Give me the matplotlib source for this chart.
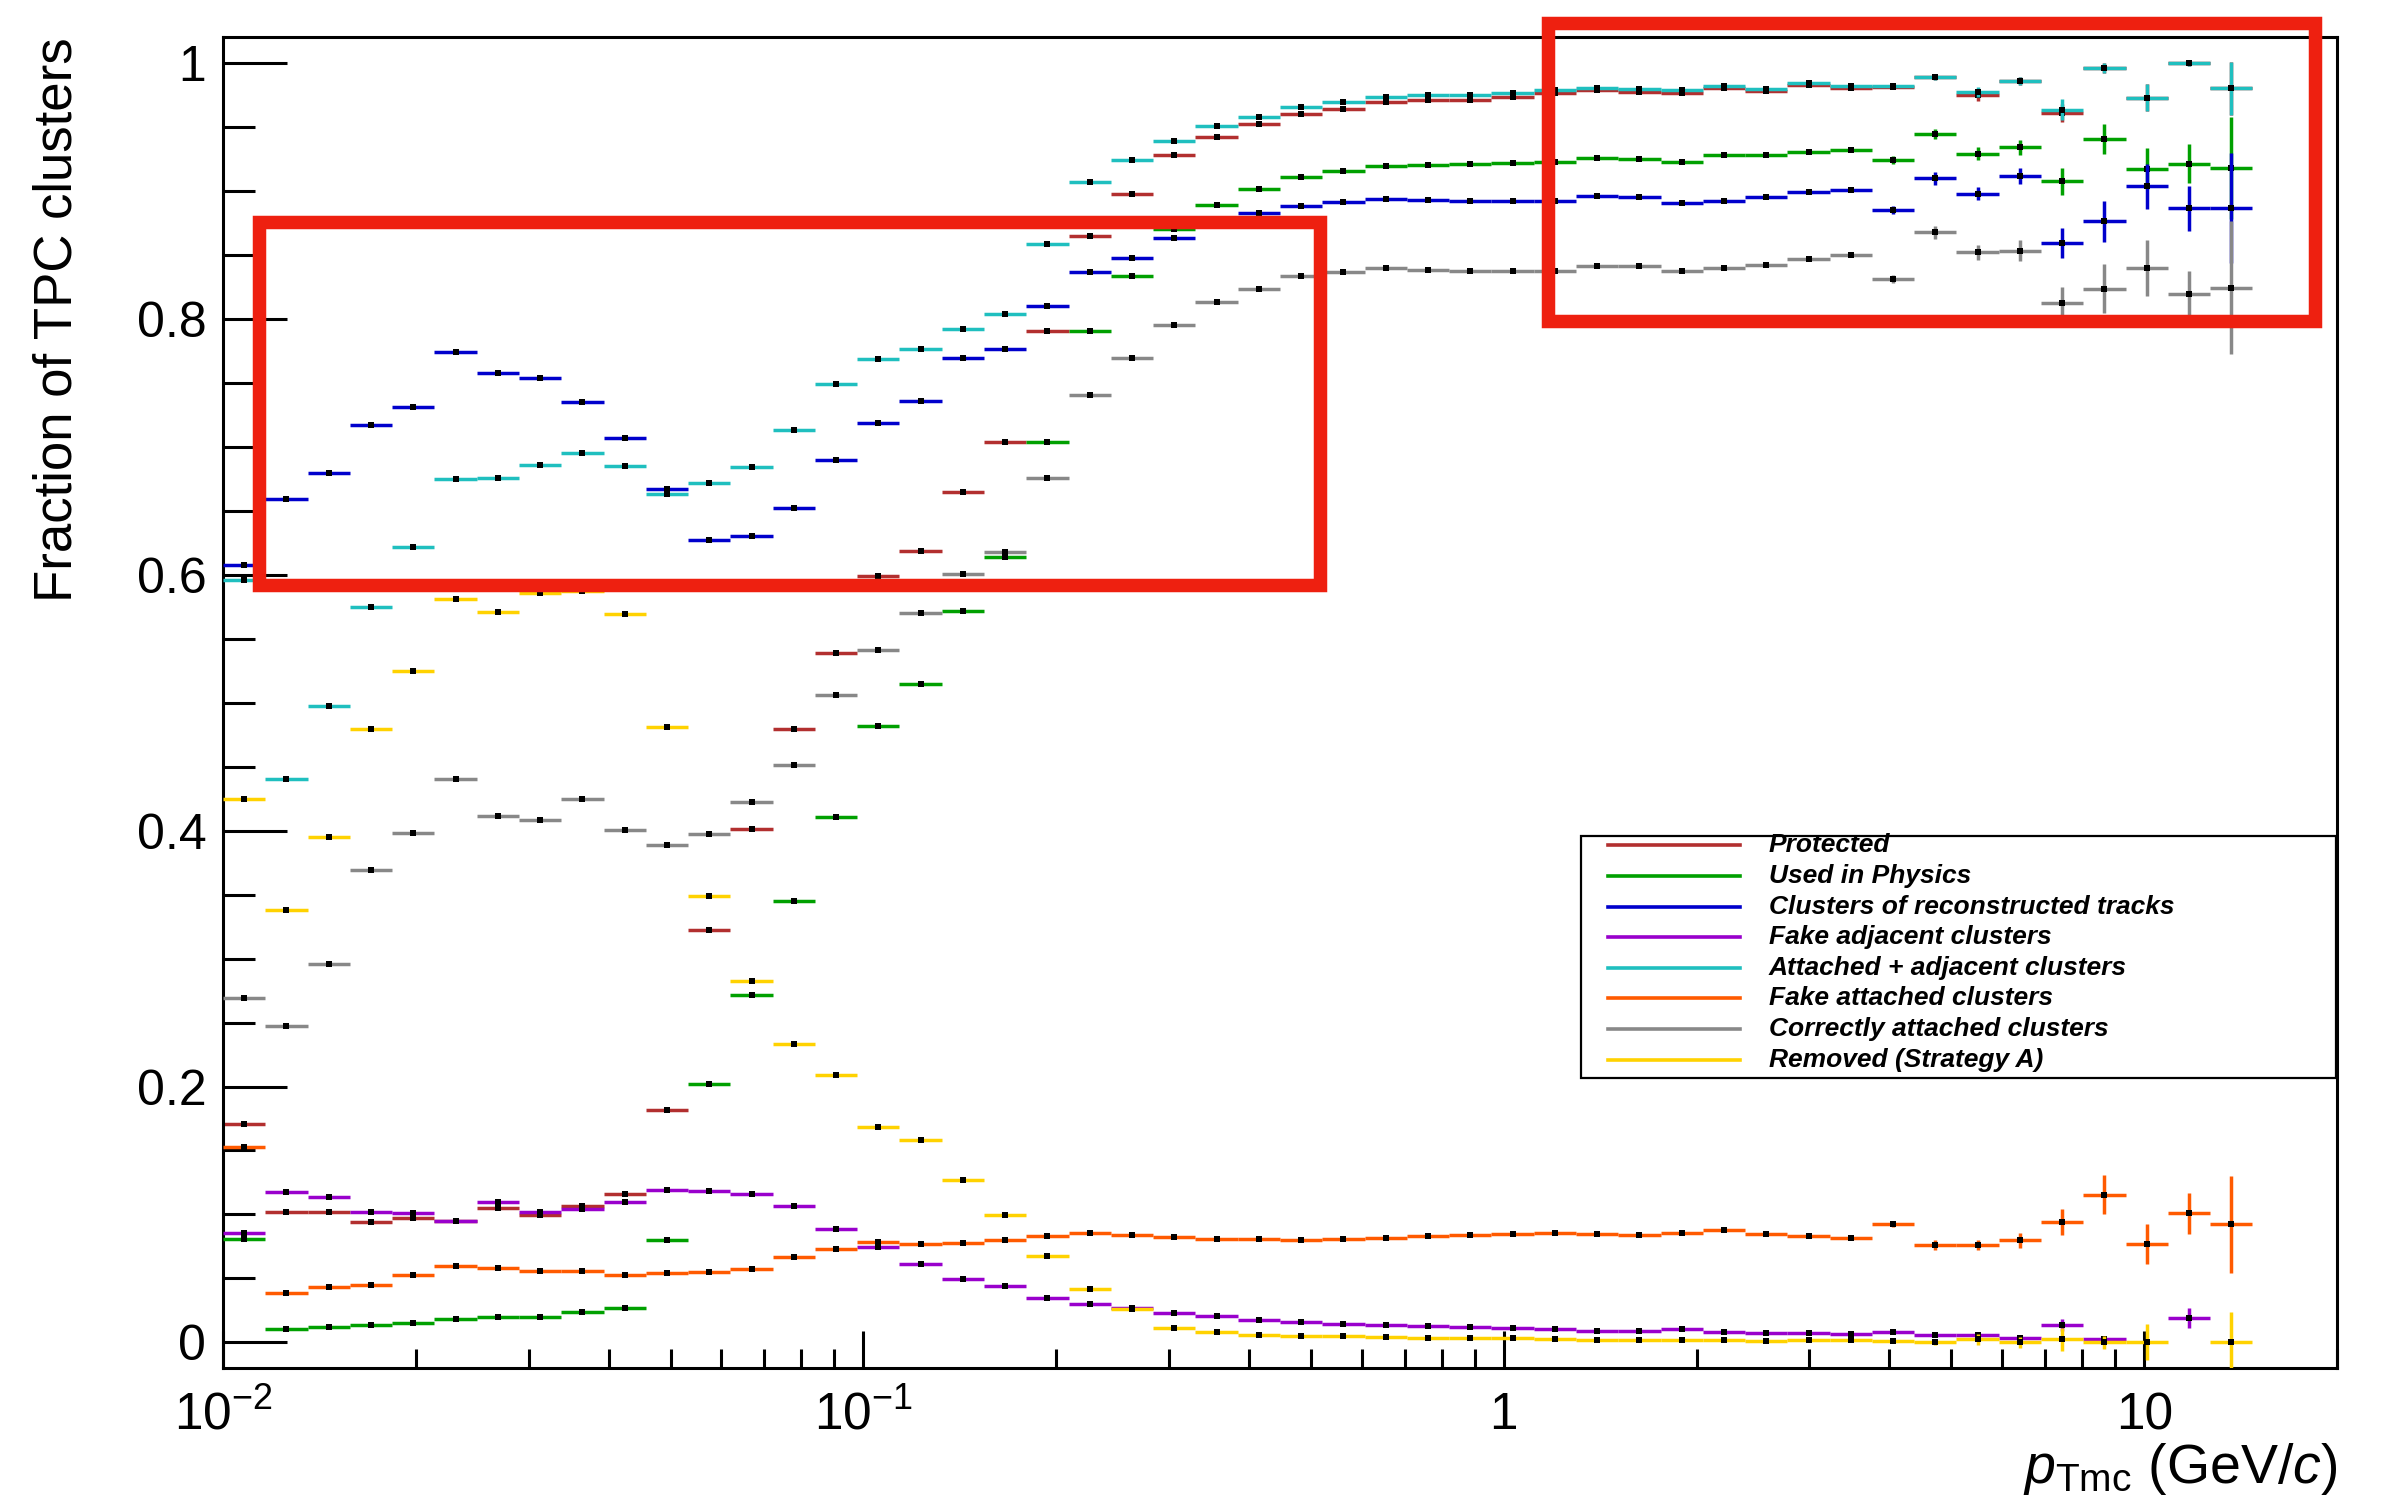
# TPC cluster fractions vs MC pT, ROOT-like look
import numpy as np
import matplotlib
matplotlib.use("Agg")
import matplotlib.pyplot as plt
from matplotlib.patches import Rectangle
from matplotlib.lines import Line2D
from matplotlib.ticker import MultipleLocator, LogLocator, NullFormatter
import matplotlib.transforms as mtransforms

plt.rcParams['font.family'] = ['Liberation Sans', 'DejaVu Sans']
plt.rcParams['mathtext.fontset'] = 'custom'
plt.rcParams['mathtext.rm'] = 'Liberation Sans'
plt.rcParams['mathtext.it'] = 'Liberation Sans:italic'
plt.rcParams['mathtext.bf'] = 'Liberation Sans:bold'

# ---------------------------------------
# data (48 filled log bins out of 50, 0.01 - 20 GeV/c)
# ---------------------------------------
n_bins_total = 50
n_filled = 48

protected = [0.171, 0.102, 0.102, 0.0945, 0.097, 0.095, 0.105, 0.0995, 0.107, 0.116,
             0.1815, 0.3226, 0.401, 0.4793, 0.5392, 0.599, 0.6184, 0.6646, 0.704, 0.7908,
             0.8646, 0.8978, 0.9277, 0.9424, 0.9521, 0.9602, 0.9641, 0.9695, 0.971, 0.9713,
             0.9734, 0.9762, 0.9785, 0.9775, 0.9767, 0.9806, 0.978, 0.9827, 0.9801, 0.981,
             0.989, 0.9746, 0.9859, 0.961, 0.9958, 0.973, 1.0, 0.9801]
used_physics = [0.081, 0.0107, 0.0122, 0.0133, 0.0154, 0.018, 0.0198, 0.0195, 0.0234, 0.0266,
                0.0797, 0.202, 0.2712, 0.3452, 0.4107, 0.4821, 0.515, 0.5715, 0.614, 0.7034,
                0.7908, 0.8332, 0.8705, 0.8889, 0.9014, 0.9108, 0.9153, 0.9195, 0.9201, 0.9207,
                0.9216, 0.9229, 0.9258, 0.9253, 0.9224, 0.9282, 0.9282, 0.9305, 0.9318, 0.9242,
                0.9447, 0.929, 0.934, 0.9077, 0.9407, 0.9174, 0.9213, 0.9179]
reco_tracks = [0.6075, 0.6596, 0.6793, 0.7171, 0.7311, 0.774, 0.7578, 0.7539, 0.7347, 0.7072,
               0.6674, 0.6274, 0.6304, 0.6522, 0.6894, 0.7187, 0.736, 0.7692, 0.7765, 0.8104,
               0.8364, 0.8474, 0.8636, 0.877, 0.8826, 0.8883, 0.891, 0.8937, 0.8931, 0.8919,
               0.8925, 0.892, 0.8964, 0.8956, 0.8904, 0.8925, 0.8951, 0.8993, 0.9006, 0.8849,
               0.9098, 0.8977, 0.9116, 0.8594, 0.8762, 0.9035, 0.8865, 0.8867]
fake_adjacent = [0.0857, 0.1177, 0.1133, 0.1016, 0.1008, 0.0948, 0.1096, 0.1023, 0.1044, 0.1099,
                 0.1188, 0.1182, 0.1161, 0.1063, 0.0888, 0.0747, 0.0615, 0.0497, 0.044, 0.0344,
                 0.0299, 0.027, 0.0229, 0.0206, 0.0177, 0.0159, 0.0143, 0.0133, 0.0125, 0.0117,
                 0.0115, 0.0104, 0.0091, 0.0089, 0.0102, 0.0078, 0.0073, 0.007, 0.0063, 0.0083,
                 0.006, 0.0055, 0.0036, 0.0138, 0.0023, np.nan, 0.019, np.nan]
attached_adjacent = [0.596, 0.4402, 0.4975, 0.5748, 0.6216, 0.6751, 0.676, 0.6856, 0.6952, 0.6853,
                     0.6629, 0.6714, 0.6841, 0.7129, 0.7491, 0.7683, 0.7768, 0.7924, 0.804, 0.8584,
                     0.9071, 0.9241, 0.939, 0.9504, 0.958, 0.9656, 0.9692, 0.9734, 0.9749, 0.9749,
                     0.9766, 0.9788, 0.9801, 0.9793, 0.9785, 0.982, 0.9793, 0.984, 0.982, 0.982,
                     0.989, 0.9775, 0.9859, 0.9636, 0.9958, 0.973, 1.0, 0.9801]
fake_attached = [0.1529, 0.0385, 0.0432, 0.045, 0.0529, 0.0594, 0.058, 0.056, 0.056, 0.0529,
                 0.0542, 0.0547, 0.0573, 0.0664, 0.0734, 0.0784, 0.0768, 0.0779, 0.0797, 0.0831,
                 0.0852, 0.0836, 0.0823, 0.0805, 0.0812, 0.0797, 0.0805, 0.0815, 0.0831, 0.0839,
                 0.0846, 0.0859, 0.0844, 0.0836, 0.0852, 0.088, 0.0849, 0.0831, 0.0813, 0.0922,
                 0.076, 0.0763, 0.0797, 0.094, 0.1156, 0.0768, 0.1008, 0.0924]
correct_attached = [0.269, 0.247, 0.2957, 0.3692, 0.3979, 0.4407, 0.4112, 0.4083, 0.4248, 0.4005,
                    0.3885, 0.3974, 0.4224, 0.4514, 0.5061, 0.5415, 0.57, 0.6004, 0.6181, 0.676,
                    0.7404, 0.7695, 0.7955, 0.8128, 0.823, 0.8335, 0.8368, 0.8395, 0.8383, 0.8377,
                    0.8374, 0.8371, 0.8411, 0.8413, 0.8371, 0.8395, 0.8424, 0.8471, 0.85, 0.8314,
                    0.8678, 0.8521, 0.8534, 0.8127, 0.8237, 0.8398, 0.8196, 0.8245]
removed_a = [0.4248, 0.3377, 0.3948, 0.4798, 0.5246, 0.5808, 0.5706, 0.5859, 0.5874, 0.5694,
             0.4811, 0.3486, 0.2827, 0.2336, 0.2094, 0.1685, 0.1583, 0.1273, 0.0997, 0.0674,
             0.0419, 0.0263, 0.0109, 0.0078, 0.0057, 0.0052, 0.0047, 0.0039, 0.0036, 0.0036,
             0.0032, 0.0026, 0.0018, 0.0018, 0.002, 0.0018, 0.0013, 0.0016, 0.0018, 0.001,
             0.0, 0.0023, 0.0, 0.0023, 0.0, 0.0, np.nan, 0.0]

# statistical errors, only visible in the last 9 bins
tail_start = 39
err_protected = [0.001, 0.002, 0.004, 0.003, 0.007, 0.004, 0.0105, 0.002, 0.0205]
err_used = [0.003, 0.004, 0.005, 0.006, 0.0105, 0.012, 0.016, 0.015, 0.040]
err_reco = [0.003, 0.005, 0.005, 0.0065, 0.012, 0.016, 0.0177, 0.0175, 0.043]
err_fake_adj = [0.001, 0.001, 0.001, 0.001, 0.0045, 0.001, 0.0, 0.0076, 0.0]
err_att_adj = [0.001, 0.002, 0.004, 0.003, 0.008, 0.004, 0.0105, 0.002, 0.0205]
err_fake_att = [0.002, 0.004, 0.004, 0.006, 0.010, 0.0155, 0.0158, 0.0163, 0.038]
err_correct = [0.003, 0.005, 0.006, 0.008, 0.012, 0.019, 0.022, 0.018, 0.052]
err_removed = [0.0005, 0.002, 0.004, 0.004, 0.009, 0.005, 0.014, 0.0, 0.024]

labels = ["Protected", "Used in Physics", "Clusters of reconstructed tracks",
          "Fake adjacent clusters", "Attached + adjacent clusters", "Fake attached clusters",
          "Correctly attached clusters", "Removed (Strategy A)"]
colors = ["#b22f2f", "#00a000", "#0000cc", "#9900cc", "#1fbfbf", "#ff5a00", "#888888", "#ffd200"]
series = [protected, used_physics, reco_tracks, fake_adjacent, attached_adjacent,
          fake_attached, correct_attached, removed_a]
tails = [err_protected, err_used, err_reco, err_fake_adj, err_att_adj, err_fake_att,
         err_correct, err_removed]

# ---------------------------------------
# figure
# ---------------------------------------
W, H = 2397, 1507
fig = plt.figure(figsize=(W / 100, H / 100), dpi=100)
ax_l, ax_r, ax_t, ax_b = 223, 2337, 37.4, 1368
ax = fig.add_axes([ax_l / W, 1 - ax_b / H, (ax_r - ax_l) / W, (ax_b - ax_t) / H])

edges = np.logspace(-2, np.log10(20), n_bins_total + 1)
lo = edges[:n_filled]
hi = edges[1:n_filled + 1]
xc = np.sqrt(lo * hi)

for i, (vals, tail, col) in enumerate(zip(series, tails, colors)):
    y = np.array(vals, dtype=float)
    err = np.zeros(n_filled)
    err[tail_start:] = tail
    ax.errorbar(xc, y, xerr=[xc - lo, hi - xc], yerr=err, fmt='none',
                ecolor=col, elinewidth=2.5, capsize=0, zorder=2 + 2 * i)
    ax.plot(xc, y, 's', color='black', ms=3.8, mew=0, zorder=3 + 2 * i)

ax.set_xscale('log')
ax.set_xlim(0.01, 20)
ax.set_ylim(-0.02, 1.02)

for s in ax.spines.values():
    s.set_linewidth(2.2)

ax.set_yticks([0, 0.2, 0.4, 0.6, 0.8, 1.0])
ax.set_yticklabels(["0", "0.2", "0.4", "0.6", "0.8", "1"])
ax.yaxis.set_minor_locator(MultipleLocator(0.05))
ax.set_xticks([0.01, 0.1, 1, 10])
ax.set_xticklabels([])
ax.xaxis.set_minor_locator(LogLocator(base=10, subs=np.arange(2, 10)))
ax.xaxis.set_minor_formatter(NullFormatter())

ax.tick_params(axis='both', which='both', direction='in', top=False, right=False, width=2.2)
ax.tick_params(axis='y', which='major', length=46, labelsize=36, pad=12)
ax.tick_params(axis='y', which='minor', length=23)
ax.tick_params(axis='x', which='major', length=27)
ax.tick_params(axis='x', which='minor', length=13.5)

# x tick labels, ROOT style (baseline aligned)
trans = mtransforms.blended_transform_factory(ax.transData, ax.transAxes)
for xv, txt in zip([0.01, 0.1, 1, 10], [r"$10^{-2}$", r"$10^{-1}$", "1", "10"]):
    ax.text(xv, -0.046, txt, transform=trans, ha='center', va='baseline', fontsize=37)

fig.text(ax_r / W, 1 - 1483 / H, r"$p_{\mathrm{Tmc}}$ (GeV/$c$)", ha='right',
         va='baseline', fontsize=40)
fig.text(58 / W, 1 - ax_t / H, "Fraction of TPC clusters", rotation=90,
         ha='center', va='top', fontsize=38)

# ---------------------------------------
# legend box (drawn by hand, ROOT TLegend look)
# ---------------------------------------
lx0, lx1, ly0, ly1 = 1581, 2336, 836, 1078
fig.add_artist(Rectangle((lx0 / W, 1 - ly1 / H), (lx1 - lx0) / W, (ly1 - ly0) / H,
                         transform=fig.transFigure, facecolor='white', edgecolor='black',
                         lw=1.6, zorder=5))
row0, row_step = 845.4, 30.6
for i, (lab, col) in enumerate(zip(labels, colors)):
    yy = 1 - (row0 + i * row_step) / H
    fig.add_artist(Line2D([1608 / W, 1740 / W], [yy, yy], transform=fig.transFigure,
                          color=col, lw=2.6, zorder=6))
    fig.text(1769 / W, yy, lab, ha='left', va='center', fontsize=19,
             fontweight='bold', fontstyle='italic', zorder=6)

# ---------------------------------------
# red highlight boxes
# ---------------------------------------
for (x0, y0, x1, y1) in [(258.5, 221.5, 1319.5, 584.5), (1548, 23, 2315, 321)]:
    fig.add_artist(Rectangle((x0 / W, 1 - y1 / H), (x1 - x0) / W, (y1 - y0) / H,
                             transform=fig.transFigure, fill=False, edgecolor='#ee2010',
                             lw=9.7, joinstyle='miter', zorder=7))

fig.savefig("out.png", dpi=100)
